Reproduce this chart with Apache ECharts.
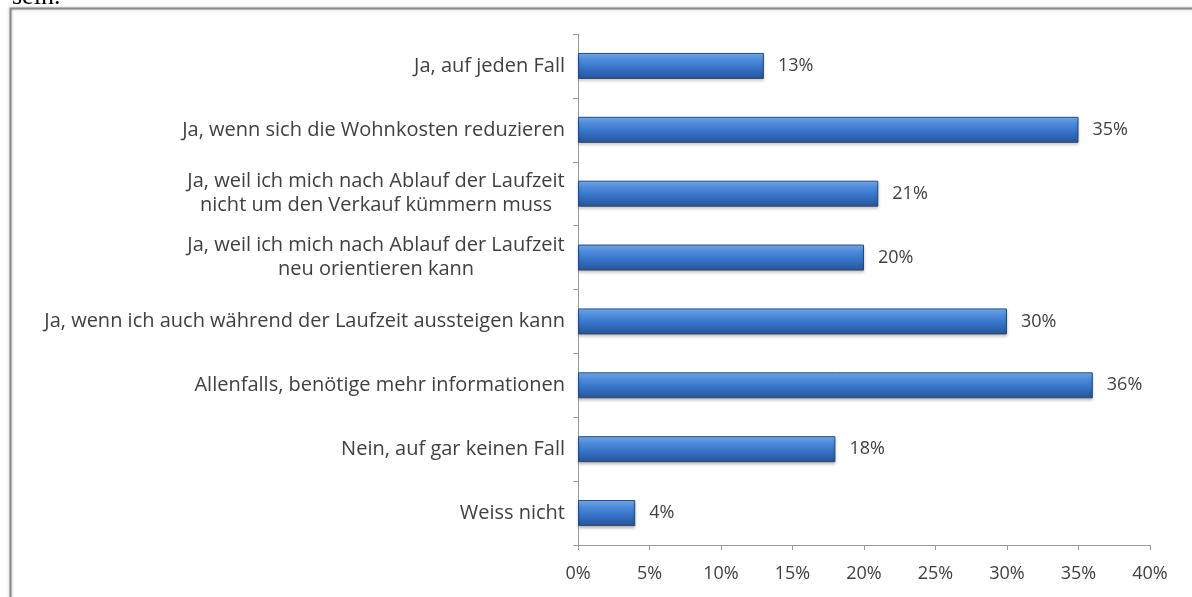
<!DOCTYPE html>
<html>
<head>
<meta charset="utf-8">
<script src="https://cdn.jsdelivr.net/npm/echarts@6/dist/echarts.min.js"></script>
<style>
  html, body { margin: 0; padding: 0; background: #ffffff; }
  #chart { width: 1192px; height: 597px; }
</style>
</head>
<body>
<div id="chart"></div>
<script>
// Survey answers (top to bottom) and their shares in percent
const categories = [
  'Ja, auf jeden Fall',
  'Ja, wenn sich die Wohnkosten reduzieren',
  'Ja, weil ich mich nach Ablauf der Laufzeit\nnicht um den Verkauf kümmern muss',
  'Ja, weil ich mich nach Ablauf der Laufzeit\nneu orientieren kann',
  'Ja, wenn ich auch während der Laufzeit aussteigen kann',
  'Allenfalls, benötige mehr informationen',
  'Nein, auf gar keinen Fall',
  'Weiss nicht'
];
const shares = [13, 35, 21, 20, 30, 36, 18, 4];
const axisMin = 0;
const axisMax = 40;
const axisStep = 5;

const chart = echarts.init(document.getElementById('chart'), null, { renderer: 'canvas' });
const textColor = '#404040';
const font = 'Open Sans';
const labelSize = 20;

// Multi-line labels are centred line by line inside a block as wide as their longest line
const measureCtx = document.createElement('canvas').getContext('2d');
measureCtx.font = labelSize + 'px "' + font + '"';
let blockWidth = 0;
categories.forEach(c => {
  if (c.indexOf('\n') >= 0) {
    c.split('\n').forEach(line => {
      blockWidth = Math.max(blockWidth, Math.ceil(measureCtx.measureText(line).width));
    });
  }
});

chart.setOption({
  animation: false,
  backgroundColor: '#ffffff',
  graphic: [
    {
      type: 'rect',
      shape: { x: 10.5, y: 8.5, width: 1200, height: 620 },
      style: { fill: 'none', stroke: '#8a8a8a', lineWidth: 2, shadowColor: 'rgba(0,0,0,0.3)', shadowBlur: 3 },
      silent: true
    },
    {
      type: 'text',
      left: 12,
      top: -16,
      style: { text: 'sein.', font: '26px "Liberation Serif"', fill: '#000000' }
    }
  ],
  grid: { left: 578, right: 42, top: 34, bottom: 52, containLabel: false },
  xAxis: {
    type: 'value',
    min: axisMin,
    max: axisMax,
    interval: axisStep,
    axisLine: { show: true, lineStyle: { color: '#9a9a9a', width: 1 } },
    axisTick: { show: true, length: 5, lineStyle: { color: '#9a9a9a' } },
    splitLine: { show: false },
    axisLabel: {
      formatter: v => v + '%',
      color: textColor,
      fontFamily: font,
      fontSize: 18,
      margin: 20
    }
  },
  yAxis: {
    type: 'category',
    data: categories,
    inverse: true,
    axisLine: { show: true, lineStyle: { color: '#9a9a9a', width: 1 } },
    axisTick: { show: true, length: 5, lineStyle: { color: '#9a9a9a' } },
    axisLabel: {
      color: textColor,
      fontFamily: font,
      fontSize: labelSize,
      lineHeight: 24,
      margin: 13,
      align: 'right',
      formatter: v => v.indexOf('\n') >= 0
        ? v.split('\n').map(line => '{ml|' + line + '}').join('\n')
        : v,
      rich: {
        ml: {
          width: blockWidth,
          align: 'center',
          color: textColor,
          fontFamily: font,
          fontSize: labelSize,
          lineHeight: 24
        }
      }
    }
  },
  series: [{
    type: 'bar',
    data: shares,
    barWidth: 26,
    itemStyle: {
      color: new echarts.graphic.LinearGradient(0, 0, 0, 1, [
        { offset: 0, color: '#86b6ec' },
        { offset: 0.25, color: '#4f8ddc' },
        { offset: 0.6, color: '#3571c6' },
        { offset: 1, color: '#27549a' }
      ]),
      borderColor: '#24497f',
      borderWidth: 1,
      shadowColor: 'rgba(0,0,0,0.25)',
      shadowBlur: 3,
      shadowOffsetY: 2
    },
    label: {
      show: true,
      position: 'right',
      distance: 14,
      formatter: p => p.value + '%',
      color: textColor,
      fontFamily: font,
      fontSize: 18
    }
  }]
});
</script>
</body>
</html>
